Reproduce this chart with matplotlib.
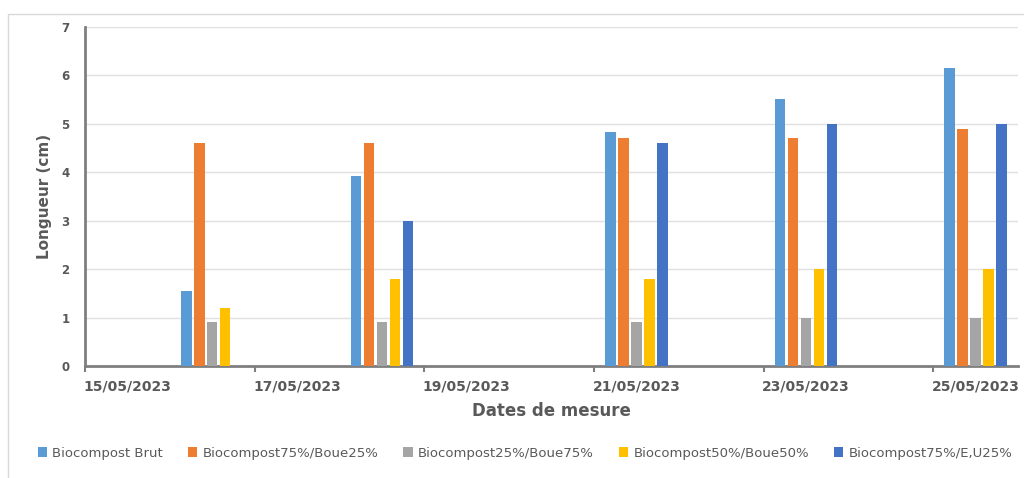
import datetime as dt
import matplotlib
matplotlib.use("Agg")
import matplotlib.pyplot as plt
import matplotlib.dates as mdates
from matplotlib.patches import Rectangle
from matplotlib.ticker import FixedLocator, NullFormatter

dates = ["16/05/2023", "18/05/2023", "21/05/2023", "23/05/2023", "25/05/2023"]
series = ["Biocompost Brut", "Biocompost75%/Boue25%", "Biocompost25%/Boue75%",
          "Biocompost50%/Boue50%", "Biocompost75%/E,U25%"]
brut = [1.55, 3.93, 4.83, 5.52, 6.15]
b75_boue25 = [4.6, 4.6, 4.7, 4.7, 4.9]
b25_boue75 = [0.9, 0.9, 0.9, 1.0, 1.0]
b50_boue50 = [1.2, 1.8, 1.8, 2.0, 2.0]
b75_eu25 = [0.0, 3.0, 4.6, 5.0, 5.0]
tick_dates = ["15/05/2023", "17/05/2023", "19/05/2023", "21/05/2023", "23/05/2023", "25/05/2023"]

colors = ["#5B9BD5", "#ED7D31", "#A5A5A5", "#FFC000", "#4472C4"]
txt = "#595959"

x = [mdates.date2num(dt.datetime.strptime(d, "%d/%m/%Y")) for d in dates]
xt = [mdates.date2num(dt.datetime.strptime(d, "%d/%m/%Y")) for d in tick_dates]

fig = plt.figure(figsize=(10.24, 4.78), dpi=100)
fig.patches.append(Rectangle((8 / 1024, -0.1), 1.1, (478 - 14) / 478 + 0.1,
                             transform=fig.transFigure, fill=False,
                             edgecolor="#D9D9D9", linewidth=1))
ax = fig.add_axes([85 / 1024, 112 / 478, 933 / 1024, 339 / 478])

w = 0.124
step = 0.153
for i, (vals, name) in enumerate(zip([brut, b75_boue25, b25_boue75, b50_boue50, b75_eu25], series)):
    pos = [xi + (i - 2) * step for xi in x]
    ax.bar(pos, vals, width=w, color=colors[i], label=name, zorder=3)

ax.set_xlim(xt[0] - 0.5, xt[-1] + 0.5)
ax.set_ylim(0, 7)
ax.set_yticks(range(0, 8))
ax.yaxis.grid(True, color="#E0E0E0", linewidth=1, zorder=0)
ax.set_axisbelow(True)

ax.xaxis.set_major_locator(FixedLocator([t - 0.5 for t in xt]))
ax.xaxis.set_major_formatter(NullFormatter())
ax.xaxis.set_minor_locator(FixedLocator(xt))
ax.set_xticklabels(tick_dates, minor=True)
ax.tick_params(axis="x", which="major", length=4, width=1.5, color="#7F7F7F", direction="out")
ax.tick_params(axis="x", which="minor", length=0, pad=10, labelsize=10, labelcolor=txt)
ax.tick_params(axis="y", length=0, pad=11, labelsize=8.5, labelcolor=txt)
for lab in ax.get_xticklabels(minor=True) + ax.get_yticklabels():
    lab.set_fontweight("bold")

for s in ["top", "right"]:
    ax.spines[s].set_visible(False)
for s in ["left", "bottom"]:
    ax.spines[s].set_color("#7F7F7F")
    ax.spines[s].set_linewidth(2)

ax.set_ylabel("Longueur (cm)", fontsize=11, fontweight="bold", color=txt, labelpad=7)
ax.set_xlabel("Dates de mesure", fontsize=12, fontweight="bold", color=txt, labelpad=6)

fig.legend(loc="center", bbox_to_anchor=(525 / 1024, 1 - 453 / 478), ncol=5,
           frameon=False, fontsize=9.5, handlelength=0.7, handleheight=0.7,
           handletextpad=0.4, columnspacing=1.9, labelcolor=txt)

fig.savefig("out.png", dpi=100)
